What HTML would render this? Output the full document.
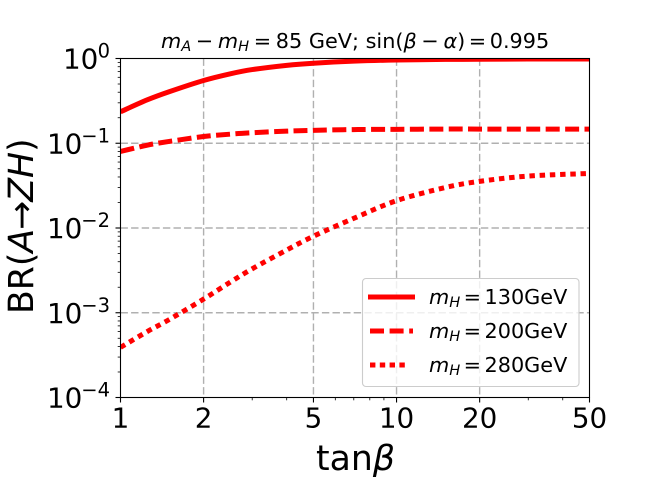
<!DOCTYPE html>
<html lang="en">
<head>
<meta charset="utf-8">
<title>BR(A→ZH) vs tanβ</title>
<style>
html,body{margin:0;padding:0;background:#fff;width:655px;height:480px;overflow:hidden}
svg{display:block}
text{font-family:"DejaVu Sans",sans-serif;fill:#000}
.it{font-style:italic}
</style>
</head>
<body>
<svg id="chart" xmlns="http://www.w3.org/2000/svg" width="655" height="480" viewBox="0 0 655 480">
  <defs><clipPath id="plot-clip"><rect x="120.5" y="58.5" width="469" height="339"/></clipPath></defs>
  <g id="grid"></g>
  <g id="series" clip-path="url(#plot-clip)"></g>
  <rect x="120.5" y="58.5" width="469" height="339" fill="none" stroke="#000" stroke-width="1.1"/>
  <g id="ticks"></g>

  <text y="48" x="161" font-size="20.8"><tspan class="it">m</tspan><tspan class="it" font-size="14.6" dy="3">A</tspan><tspan dy="-3" dx="4.6">−</tspan><tspan class="it" dx="4.6">m</tspan><tspan class="it" font-size="14.6" dy="3">H</tspan><tspan dy="-3" dx="4.6">=</tspan><tspan dx="4.6">85 GeV; sin(</tspan><tspan class="it">β</tspan><tspan dx="4.6">−</tspan><tspan class="it" dx="4.6">α</tspan><tspan>)</tspan><tspan dx="3.5">=</tspan><tspan dx="3.5">0.995</tspan></text>

  <text x="316" y="470" font-size="34.7">tan<tspan class="it">β</tspan></text>
  <text transform="translate(33,314) rotate(-90)" font-size="34.7">BR(<tspan class="it">A</tspan><tspan dx="-1">→</tspan><tspan class="it" dx="-1">ZH</tspan>)</text>

  <g>
    <rect x="362.5" y="278.5" width="216.5" height="108" rx="3.5" ry="3.5" fill="#fff" fill-opacity="0.8" stroke="#ccc" stroke-width="1.1"/>
    <line x1="368" x2="415" y1="297" y2="297" stroke="#f00" stroke-width="5"/>
    <line x1="370" x2="413" y1="331" y2="331" stroke="#f00" stroke-width="5" stroke-dasharray="14 5.6"/>
    <line x1="370" x2="409" y1="365" y2="365" stroke="#f00" stroke-width="5" stroke-dasharray="5.4 4.4"/>
    <text x="429" y="304" font-size="20.8"><tspan class="it">m</tspan><tspan class="it" font-size="14.6" dy="3">H</tspan><tspan dy="-3" dx="3.4">=</tspan><tspan dx="3.4">130GeV</tspan></text>
    <text x="429" y="338" font-size="20.8"><tspan class="it">m</tspan><tspan class="it" font-size="14.6" dy="3">H</tspan><tspan dy="-3" dx="3.4">=</tspan><tspan dx="3.4">200GeV</tspan></text>
    <text x="429" y="372" font-size="20.8"><tspan class="it">m</tspan><tspan class="it" font-size="14.6" dy="3">H</tspan><tspan dy="-3" dx="3.4">=</tspan><tspan dx="3.4">280GeV</tspan></text>
  </g>
</svg>
<script>
const tanBeta = [1, 1.25, 1.5, 2, 2.5, 3, 4, 5, 7, 10, 15, 20, 30, 50];
const br130 = [0.235, 0.325, 0.405, 0.55, 0.66, 0.74, 0.83, 0.88, 0.93, 0.96, 0.975, 0.98, 0.985, 0.985];
const br200 = [0.080, 0.095, 0.105, 0.120, 0.128, 0.133, 0.139, 0.142, 0.145, 0.146, 0.147, 0.147, 0.147, 0.147];
const br280 = [0.00039, 0.00060, 0.00083, 0.00145, 0.0023, 0.0033, 0.0055, 0.0080, 0.0130, 0.0210, 0.0300, 0.0355, 0.0410, 0.0440];
const xMajorTicks = [1, 2, 5, 10, 20, 50];
const xMinorTicks = [3, 4, 6, 7, 8, 9, 30, 40];
const yDecades = [0, -1, -2, -3, -4];
const yMinorFactors = [2, 3, 4, 5, 6, 7, 8, 9];

const NS = 'http://www.w3.org/2000/svg';
const X0 = 120.5, X1 = 589.5, Y0 = 58.5, Y1 = 397.5;
function xScale(v) { return X0 + (X1 - X0) * Math.log10(v) / Math.log10(50); }
function yScale(v) { return Y0 + (Y1 - Y0) * (0 - Math.log10(v)) / 4; }
function make(tag, attrs, parent) {
  const el = document.createElementNS(NS, tag);
  for (const k in attrs) el.setAttribute(k, attrs[k]);
  parent.appendChild(el);
  return el;
}
const grid = document.getElementById('grid');
const ticks = document.getElementById('ticks');
const seriesG = document.getElementById('series');
const chart = document.getElementById('chart');

xMajorTicks.forEach(function (t) {
  const x = xScale(t);
  if (t !== 1 && t !== 50) {
    const g = make('line', {x1: x, x2: x, y1: Y0, y2: Y1, stroke: '#b0b0b0', 'stroke-width': 1.4, 'stroke-dasharray': '7.4 3.2'}, grid);
    
    
  }
  const m = make('line', {x1: x, x2: x, y1: Y1, y2: Y1 + 5, stroke: '#000', 'stroke-width': 1.1}, ticks);
  
  
  const lbl = make('text', {x: x, y: 427.5, 'font-size': 27.8, 'text-anchor': 'middle'}, chart);
  lbl.textContent = String(t);
  
  
});
xMinorTicks.forEach(function (t) {
  const x = xScale(t);
  const m = make('line', {x1: x, x2: x, y1: Y1, y2: Y1 + 2.8, stroke: '#000', 'stroke-width': 0.8}, ticks);
  
  
});
yDecades.forEach(function (d) {
  const v = Math.pow(10, d);
  const y = yScale(v);
  if (d !== 0 && d !== -4) {
    const g = make('line', {x1: X0, x2: X1, y1: y, y2: y, stroke: '#b0b0b0', 'stroke-width': 1.4, 'stroke-dasharray': '7.4 3.2'}, grid);
    
    
  }
  const m = make('line', {x1: X0 - 5, x2: X0, y1: y, y2: y, stroke: '#000', 'stroke-width': 1.1}, ticks);
  
  
  const base = make('text', {x: d === 0 ? 63 : 47, y: y + 10, 'font-size': 27.8}, chart);
  base.textContent = '10';
  
  
  const sup = make('text', {x: 110, y: y - 1, 'font-size': 19.5, 'text-anchor': 'end'}, chart);
  sup.textContent = d === 0 ? '0' : '\u2212' + Math.abs(d);
  
  
  if (d > -4) {
    yMinorFactors.forEach(function (f) {
      const yy = yScale(v * f / 10);
      const n = make('line', {x1: X0 - 2.8, x2: X0, y1: yy, y2: yy, stroke: '#000', 'stroke-width': 0.8}, ticks);
      
      
    });
  }
});
function smoothPath(pts) {
  let d = 'M' + pts[0][0].toFixed(2) + ' ' + pts[0][1].toFixed(2);
  for (let i = 0; i < pts.length - 1; i++) {
    const p0 = pts[Math.max(i - 1, 0)], p1 = pts[i], p2 = pts[i + 1], p3 = pts[Math.min(i + 2, pts.length - 1)];
    const c1x = p1[0] + (p2[0] - p0[0]) / 6, c1y = p1[1] + (p2[1] - p0[1]) / 6;
    const c2x = p2[0] - (p3[0] - p1[0]) / 6, c2y = p2[1] - (p3[1] - p1[1]) / 6;
    d += 'C' + c1x.toFixed(2) + ' ' + c1y.toFixed(2) + ' ' + c2x.toFixed(2) + ' ' + c2y.toFixed(2) + ' ' + p2[0].toFixed(2) + ' ' + p2[1].toFixed(2);
  }
  return d;
}
function drawSeries(values, dash, name) {
  const pts = tanBeta.map(function (t, i) { return [xScale(t), yScale(values[i])]; });
  const attrs = {d: smoothPath(pts), fill: 'none', stroke: '#f00', 'stroke-width': 5};
  if (dash) attrs['stroke-dasharray'] = dash;
  const line = make('path', attrs, seriesG);
  
  
}
drawSeries(br130, null, 'series-mh-130');
drawSeries(br200, '14 5.4', 'series-mh-200');
drawSeries(br280, '5.4 4.8', 'series-mh-280');
</script>
</body>
</html>
